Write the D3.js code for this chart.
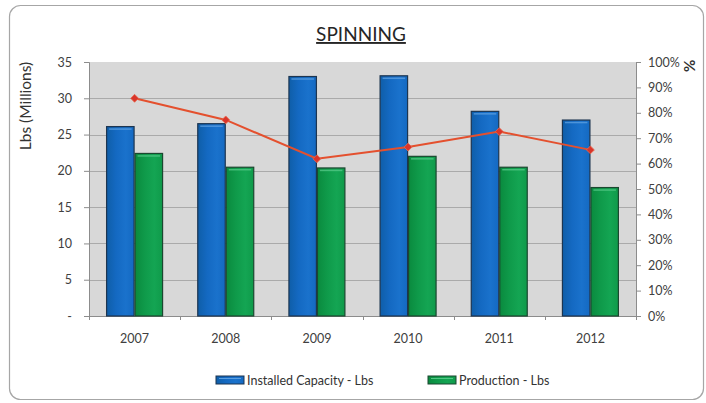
<!DOCTYPE html>
<html>
<head>
<meta charset="utf-8">
<script src="https://cdn.jsdelivr.net/npm/d3@7"></script>
<style>
  html, body { margin: 0; padding: 0; background: #fff; }
  svg { display: block; font-family: Lato, "Open Sans", sans-serif; }
</style>
</head>
<body>
<svg id="chart" width="706" height="403"></svg>
<script>
// Spinning: installed capacity vs production (Lbs, millions) and utilisation %
const years = ["2007", "2008", "2009", "2010", "2011", "2012"];
const capacity = [26.1, 26.5, 33.0, 33.1, 28.2, 27.0];
const production = [22.4, 20.5, 20.4, 22.0, 20.5, 17.7];
const utilisation = [0.857, 0.772, 0.619, 0.665, 0.726, 0.654];
const seriesNames = ["Installed Capacity - Lbs", "Production - Lbs"];
const leftTicks = [0, 5, 10, 15, 20, 25, 30, 35];
const rightTicks = [0, 0.1, 0.2, 0.3, 0.4, 0.5, 0.6, 0.7, 0.8, 0.9, 1.0];

const svg = d3.select("#chart");
const plot = { left: 89, right: 636, top: 62, bottom: 316 };

const defs = svg.append("defs");
function barGradient(id, dark, mid, light) {
  const g = defs.append("linearGradient").attr("id", id)
    .attr("x1", 0).attr("x2", 1).attr("y1", 0).attr("y2", 0);
  g.append("stop").attr("offset", "0%").attr("stop-color", dark);
  g.append("stop").attr("offset", "35%").attr("stop-color", mid);
  g.append("stop").attr("offset", "70%").attr("stop-color", light);
  g.append("stop").attr("offset", "100%").attr("stop-color", mid);
}
barGradient("gBlue", "#0f5ea8", "#1469c2", "#1a72cc");
barGradient("gGreen", "#0a8a3e", "#0f9a4a", "#14a553");

// outer frame
svg.append("rect")
  .attr("x", 9.5).attr("y", 5.5).attr("width", 694).attr("height", 394)
  .attr("rx", 11).attr("fill", "#fff").attr("stroke", "#a6a6a6").attr("stroke-width", 1.2);

// title
svg.append("text")
  .attr("x", 361).attr("y", 41).attr("text-anchor", "middle")
  .attr("font-size", 19).attr("fill", "#262626")
  .attr("text-decoration", "underline")
  .text("SPINNING");

// scales
const x = d3.scaleBand().domain(years)
  .range([plot.left, plot.right]).paddingInner(0.375).paddingOuter(0.1875);
const xs = d3.scaleBand().domain(seriesNames).range([0, x.bandwidth()]);
const y = d3.scaleLinear().domain([0, 35]).range([plot.bottom, plot.top]);
const yp = d3.scaleLinear().domain([0, 1]).range([plot.bottom, plot.top]);

// plot background
svg.append("rect")
  .attr("x", plot.left).attr("y", plot.top)
  .attr("width", plot.right - plot.left).attr("height", plot.bottom - plot.top)
  .attr("fill", "#d8d8d8");

// gridlines
svg.append("g").selectAll("line").data(leftTicks.filter(t => t > 0 && t < 35)).join("line")
  .attr("x1", plot.left).attr("x2", plot.right)
  .attr("y1", d => Math.round(y(d)) + 0.5).attr("y2", d => Math.round(y(d)) + 0.5)
  .attr("stroke", "#aaaaaa").attr("stroke-width", 1);

// left axis
const leftAxis = d3.axisLeft(y).tickValues(leftTicks)
  .tickFormat(d => d === 0 ? "-" : d3.format("d")(d))
  .tickSize(5).tickPadding(12);
const gl = svg.append("g").attr("transform", `translate(${plot.left},0)`).call(leftAxis);
gl.select(".domain").attr("stroke", "#8c8c8c");
gl.selectAll(".tick line").attr("stroke", "#8c8c8c");
gl.selectAll(".tick text").attr("font-size", 12.5).attr("fill", "#404040")
  .attr("font-family", "Lato, sans-serif");

// right axis
const rightAxis = d3.axisRight(yp).tickValues(rightTicks)
  .tickFormat(d3.format(".0%")).tickSize(5).tickPadding(7);
const gr = svg.append("g").attr("transform", `translate(${plot.right},0)`).call(rightAxis);
gr.select(".domain").attr("stroke", "#8c8c8c");
gr.selectAll(".tick line").attr("stroke", "#8c8c8c");
gr.selectAll(".tick text").attr("font-size", 12.5).attr("fill", "#404040")
  .attr("font-family", "Lato, sans-serif");

// bottom axis: ticks at category boundaries
const step = x.step();
const boundaries = d3.range(years.length + 1).map(i => plot.left + i * step);
svg.append("g").selectAll("line").data(boundaries).join("line")
  .attr("x1", d => Math.round(d) + 0.5).attr("x2", d => Math.round(d) + 0.5)
  .attr("y1", plot.bottom).attr("y2", plot.bottom + 4)
  .attr("stroke", "#8c8c8c");
svg.append("line")
  .attr("x1", plot.left).attr("x2", plot.right)
  .attr("y1", plot.bottom + 0.5).attr("y2", plot.bottom + 0.5)
  .attr("stroke", "#8c8c8c");
svg.append("g").selectAll("text").data(years).join("text")
  .attr("x", d => x(d) + x.bandwidth() / 2).attr("y", 343)
  .attr("text-anchor", "middle").attr("font-size", 12.5).attr("fill", "#404040")
  .text(d => d);

// bars
const rows = years.map((yr, i) => ({ year: yr, vals: [capacity[i], production[i]] }));
const fills = ["url(#gBlue)", "url(#gGreen)"];
const strokes = ["#1d3550", "#1b4730"];
const highlights = ["#5a9ee0", "#52c785"];
const groups = svg.append("g").selectAll("g").data(rows).join("g")
  .attr("transform", d => `translate(${x(d.year)},0)`);
groups.selectAll("rect.bar").data(d => d.vals.map((v, k) => ({ v, k }))).join("rect")
  .attr("class", "bar")
  .attr("x", d => xs(seriesNames[d.k]) + 0.5)
  .attr("y", d => y(d.v))
  .attr("width", xs.bandwidth() - 1)
  .attr("height", d => plot.bottom - y(d.v))
  .attr("fill", d => fills[d.k])
  .attr("stroke", d => strokes[d.k]).attr("stroke-width", 1.2);
groups.selectAll("line.hl").data(d => d.vals.map((v, k) => ({ v, k }))).join("line")
  .attr("class", "hl")
  .attr("x1", d => xs(seriesNames[d.k]) + 3).attr("x2", d => xs(seriesNames[d.k]) + xs.bandwidth() - 3)
  .attr("y1", d => y(d.v) + 2.5).attr("y2", d => y(d.v) + 2.5)
  .attr("stroke", d => highlights[d.k]).attr("stroke-width", 1.5).attr("opacity", 0.8);

// utilisation line
const cx = d => x(d) + x.bandwidth() / 2;
const line = d3.line().x((d, i) => cx(years[i])).y(d => yp(d));
svg.append("path").datum(utilisation)
  .attr("d", line).attr("fill", "none")
  .attr("stroke", "#e4502e").attr("stroke-width", 2);
svg.append("g").selectAll("path").data(utilisation).join("path")
  .attr("transform", (d, i) => `translate(${cx(years[i])},${yp(d)})`)
  .attr("d", d3.symbol(d3.symbolDiamond2, 40)())
  .attr("fill", "#d9352a").attr("stroke", "#e86a50").attr("stroke-width", 0.8);

// axis titles
svg.append("text")
  .attr("transform", "translate(31,106) rotate(-90)")
  .attr("text-anchor", "middle").attr("font-size", 15.5).attr("fill", "#333")
  .text("Lbs (Millions)");
svg.append("text")
  .attr("transform", "translate(684,66) rotate(90)")
  .attr("text-anchor", "middle").attr("font-size", 15).attr("font-weight", "bold").attr("fill", "#333")
  .text("%");

// legend
const legendX = [216, 428];
const lg = svg.append("g").selectAll("g").data(seriesNames).join("g")
  .attr("transform", (d, i) => `translate(${legendX[i]},376)`);
lg.append("rect").attr("width", 28).attr("height", 8)
  .attr("fill", (d, i) => fills[i]).attr("stroke", (d, i) => strokes[i]);
lg.append("line").attr("x1", 3).attr("x2", 25).attr("y1", 2.5).attr("y2", 2.5)
  .attr("stroke", (d, i) => highlights[i]).attr("stroke-width", 1);
lg.append("text").attr("x", 31).attr("y", 8.5)
  .attr("font-size", 12.5).attr("fill", "#333").text(d => d);
</script>
</body>
</html>
